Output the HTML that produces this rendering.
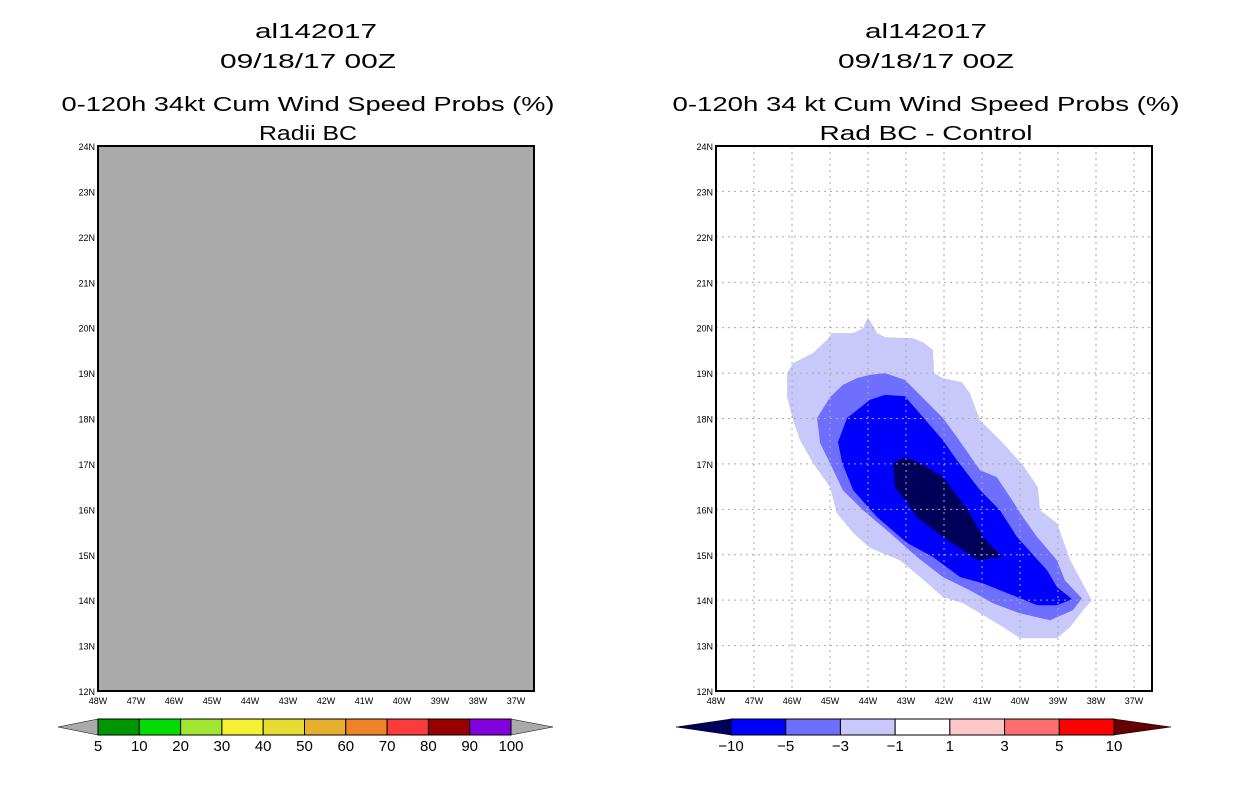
<!DOCTYPE html>
<html><head><meta charset="utf-8"><style>
html,body{margin:0;padding:0;background:#fff;}
svg{display:block;font-family:"Liberation Sans",sans-serif;}
</style></head><body>
<svg id="s" width="1236" height="800" viewBox="0 0 1236 800">
<g font-size="20" text-anchor="middle" fill="#000" lengthAdjust="spacingAndGlyphs">
<text x="316" y="38" textLength="122" lengthAdjust="spacingAndGlyphs">al142017</text><text x="308" y="68" textLength="176" lengthAdjust="spacingAndGlyphs">09/18/17 00Z</text>
<text x="308" y="111" textLength="493" lengthAdjust="spacingAndGlyphs">0-120h 34kt Cum Wind Speed Probs (%)</text><text x="308" y="140" textLength="98" lengthAdjust="spacingAndGlyphs">Radii BC</text></g>
<g font-size="20" text-anchor="middle" fill="#000">
<text x="926" y="38" textLength="122" lengthAdjust="spacingAndGlyphs">al142017</text><text x="926" y="68" textLength="176" lengthAdjust="spacingAndGlyphs">09/18/17 00Z</text>
<text x="926" y="111" textLength="507" lengthAdjust="spacingAndGlyphs">0-120h 34 kt Cum Wind Speed Probs (%)</text><text x="926" y="140" textLength="213" lengthAdjust="spacingAndGlyphs">Rad BC - Control</text></g>
<g id="L"></g>
<g id="R"></g>
<g id="CB"></g>
</svg>
<script>
const NS="http://www.w3.org/2000/svg";
const lonTicks=[-48,-47,-46,-45,-44,-43,-42,-41,-40,-39,-38,-37];
const latTicks=[12,13,14,15,16,17,18,19,20,21,22,23,24];
const leftLevels=["5","10","20","30","40","50","60","70","80","90","100"];
const leftColors=["#009600","#00dc00","#a0e632","#f5f032","#e6dc32","#e6af2d","#f08228","#fa3c3c","#960000","#8200dc"];
const rightLevels=["-10","-5","-3","-1","1","3","5","10"];
const rightColors=["#0000ff","#6e6eff","#c8c8fa","#ffffff","#ffc8c8","#ff6e6e","#ff0000"];
const lightLon=[-44.0,-43.76,-43.55,-42.82,-42.55,-42.29,-42.26,-42.03,-41.53,-41.32,-41.05,-40.45,-39.92,-39.53,-39.47,-39.03,-38.68,-38.11,-38.34,-38.68,-39.03,-40.0,-40.45,-41.05,-41.5,-42.03,-42.63,-43.16,-43.95,-44.39,-44.82,-45.0,-45.45,-45.79,-45.97,-46.13,-46.13,-45.97,-45.45,-45.08,-44.95,-44.39,-44.13];
const lightLat=[20.23,19.88,19.79,19.77,19.68,19.51,19.0,18.89,18.8,18.56,17.96,17.46,16.97,16.49,15.98,15.7,14.88,14.0,13.78,13.41,13.16,13.16,13.41,13.71,13.93,14.07,14.51,14.88,15.15,15.48,15.92,16.49,17.02,17.52,17.96,18.47,19.0,19.22,19.44,19.73,19.88,19.88,19.99];
const medLon=[-43.95,-43.55,-43.03,-42.03,-41.66,-41.05,-40.61,-40.26,-39.92,-39.55,-39.03,-38.82,-38.37,-38.61,-39.21,-40.0,-40.71,-41.32,-42.03,-42.71,-43.42,-44.13,-44.66,-44.95,-45.26,-45.34,-45.0,-44.66,-44.29];
const medLat=[18.96,19.0,18.85,18.01,17.59,16.86,16.71,16.27,15.83,15.39,14.88,14.44,14.04,13.78,13.56,13.71,13.93,14.22,14.51,14.95,15.48,15.98,16.42,16.93,17.46,18.01,18.47,18.74,18.89];
const blueLon=[-43.55,-43.03,-42.03,-41.66,-41.05,-40.53,-40.08,-39.29,-39.03,-38.63,-39.03,-39.55,-40.08,-40.97,-41.58,-42.29,-42.97,-43.76,-44.39,-44.68,-44.79,-44.55,-43.95];
const blueLat=[18.52,18.49,17.52,17.08,16.42,15.98,15.39,14.66,14.29,14.02,13.89,13.89,14.07,14.37,14.51,14.95,15.26,15.83,16.42,17.02,17.48,18.01,18.41];
const navyLon=[-43.03,-42.63,-42.03,-41.37,-40.97,-40.47,-40.71,-41.11,-41.5,-42.03,-42.71,-43.08,-43.29,-43.34];
const navyLat=[17.15,17.02,16.71,15.98,15.39,14.95,14.93,14.88,15.1,15.39,15.83,16.27,16.49,17.02];

function mk(t,a,p){const e=document.createElementNS(NS,t);for(const k in a)e.setAttribute(k,a[k]);p.appendChild(e);return e;}
const B=691,W=436;
function yS(lat){return 146+(24-lat)*(B-146)/12;}
function xS(x0){return lon=>x0+(lon+48)*38;}
function drawMap(g,x0,grey){
  const x=xS(x0);
  if(grey){const r=mk('rect',{x:x0,y:146,width:W,height:545,fill:'#aaaaaa'},g);
    
    }
  else{
    const polys=[[lightLon,lightLat,'#c8c8fa','contour-minus1'],[medLon,medLat,'#6e6eff','contour-minus3'],[blueLon,blueLat,'#0000ff','contour-minus5'],[navyLon,navyLat,'#00005a','contour-minus10']];
    polys.forEach(([lo,la,c,n])=>{
      const p=mk('polygon',{points:lo.map((v,i)=>x(v).toFixed(1)+','+yS(la[i]).toFixed(1)).join(' '),fill:c},g);
      
      
    });
    lonTicks.slice(1).forEach(l=>{const ln=mk('line',{x1:x(l),x2:x(l),y1:146,y2:691,stroke:'#aaa','stroke-dasharray':'2,4'},g);
      
      });
    latTicks.slice(1,-1).forEach(l=>{const ln=mk('line',{x1:x0,x2:x0+W,y1:yS(l),y2:yS(l),stroke:'#aaa','stroke-dasharray':'2,4'},g);
      
      });
  }
  const fr=mk('rect',{x:x0,y:146,width:W,height:545,fill:'none',stroke:'#000','stroke-width':2},g);
  
  
  lonTicks.forEach(l=>{const t=mk('text',{x:x(l),y:704,'font-size':9,'text-anchor':'middle'},g);t.textContent=(-l)+'W';
    
    });
  latTicks.forEach(l=>{const t=mk('text',{x:x0-3,y:yS(l)+4,'font-size':9,'text-anchor':'end'},g);t.textContent=l+'N';
    
    });
}
drawMap(document.getElementById('L'),98,true);
drawMap(document.getElementById('R'),716,false);
function cbar(g,x0,x1,tl,tr,cols,labs,lc,rc){
  const w=(x1-x0)/cols.length,y0=719,y1=735,ym=727;
  const a=mk('polygon',{points:`${x0},${y0} ${tl},${ym} ${x0},${y1}`,fill:lc,stroke:'#000','stroke-width':0.5},g);
  
  
  const b=mk('polygon',{points:`${x1},${y0} ${tr},${ym} ${x1},${y1}`,fill:rc,stroke:'#000','stroke-width':0.5},g);
  
  
  cols.forEach((c,i)=>{const r=mk('rect',{x:x0+i*w,y:y0,width:w,height:y1-y0,fill:c,stroke:'#000','stroke-width':1},g);
    
    });
  labs.forEach((s,i)=>{const t=mk('text',{x:x0+i*w,y:751,'font-size':15,'text-anchor':'middle'},g);t.textContent=s.replace('-','\u2212');
    
    });
}
const cb=document.getElementById('CB');
cbar(cb,98,511,58,553,leftColors,leftLevels,'#aaaaaa','#aaaaaa');
cbar(cb,731,1114,676,1171,rightColors,rightLevels,'#00005a','#640000');
</script>
</body></html>
